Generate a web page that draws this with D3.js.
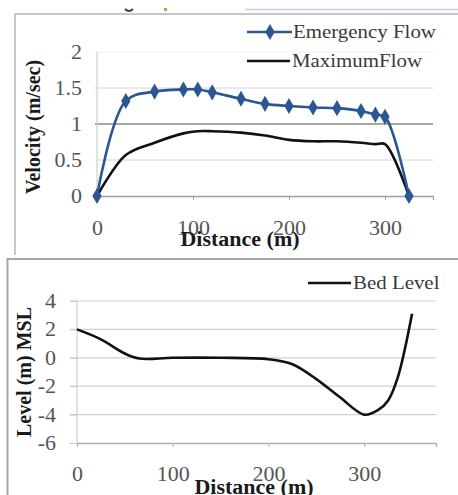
<!DOCTYPE html>
<html><head><meta charset="utf-8">
<script src="https://cdn.jsdelivr.net/npm/d3@7"></script>
<style>
html,body{margin:0;padding:0;background:#fff;}
svg{display:block;}
</style></head>
<body>
<script>
// ---- Data ----
const velDistance = [0,30,60,90,105,120,150,175,200,225,250,275,290,300,325];
const emergencyFlow = [0,1.32,1.45,1.48,1.48,1.44,1.35,1.28,1.25,1.23,1.22,1.18,1.13,1.1,0];
const maximumFlow = [0,0.57,0.74,0.87,0.9,0.9,0.88,0.84,0.78,0.76,0.76,0.74,0.72,0.72,0];
const velTicks = [0,0.5,1,1.5,2];
const distTicks = [0,100,200,300];

const bedDistance = [0,25,50,65,100,150,200,225,250,275,300,315,325,335,350];
const bedLevel = [2,1.3,0.3,-0.05,0,0,-0.1,-0.45,-1.5,-2.8,-4,-3.65,-3.0,-1.4,3.1];
const levelTicks = [-6,-4,-2,0,2,4];

const W = 458, H = 495, SX = 1.1;
const BLUE = "#2a5694";
const FONT = "'Liberation Serif', 'Times New Roman', Tinos, 'DejaVu Serif', serif";

const svg = d3.select("body").append("svg").attr("width", W).attr("height", H);
svg.append("rect").attr("width", W).attr("height", H).attr("fill", "#fff");

// ---- frames ----
svg.append("line").attr("x1", 245).attr("x2", W).attr("y1", 9.5).attr("y2", 9.5)
  .attr("stroke", "#c9c9ef").attr("stroke-width", 1.5);
svg.append("path").attr("d", "M15,255V14H" + W).attr("fill", "none")
  .attr("stroke", "#b5b5b5").attr("stroke-width", 1.5);
svg.append("path").attr("d", "M7.5," + H + "V259H" + W).attr("fill", "none")
  .attr("stroke", "#a8a8a8").attr("stroke-width", 2);
// tiny cropped glyph fragments at top
svg.append("path").attr("d", "M125,9 Q129,13 133,9").attr("fill", "none").attr("stroke", "#3a3a60").attr("stroke-width", 2);
svg.append("rect").attr("x", 164).attr("y", 8).attr("width", 3).attr("height", 3).attr("fill", "#c9a030");

function stretchedText(g, x, y, s, o) {
  o = o || {};
  return g.append("text")
    .attr("transform", `translate(${x},${y}) scale(${SX},1)`)
    .attr("text-anchor", o.anchor || "start")
    .attr("font-size", o.size || 19)
    .attr("font-weight", o.weight || "normal")
    .attr("fill", o.fill || "#333")
    .text(s);
}

// ================= Top chart =================
const x1 = d3.scaleLinear().domain([0, 350]).range([97, 433]);
const y1 = d3.scaleLinear().domain([0, 2]).range([196, 52]);
const g1 = svg.append("g");

g1.selectAll("line.grid").data(velTicks.filter(v => v > 0)).join("line")
  .attr("x1", x1(0) - 2).attr("x2", x1(350))
  .attr("y1", d => y1(d)).attr("y2", d => y1(d))
  .attr("stroke", d => d === 1 ? "#8a8a8a" : (d === 2 ? "#f0f0f0" : "#d4d4d4"))
  .attr("stroke-width", d => d === 1 ? 1.3 : 1);
g1.append("line").attr("x1", x1(0)).attr("x2", x1(0)).attr("y1", y1(2)).attr("y2", y1(0))
  .attr("stroke", "#cfcfcf").attr("stroke-width", 1.2);

const ya1 = g1.append("g").attr("transform", `translate(${x1(0)},0)`)
  .call(d3.axisLeft(y1).tickValues(velTicks).tickSize(0).tickPadding(15).tickFormat(d => String(d)));
ya1.select(".domain").remove();
ya1.selectAll("text").attr("font-size", 20).attr("fill", "#555")
  .attr("transform", `scale(${SX},1)`).attr("x", -15 / SX);

const xa1 = g1.append("g").attr("transform", `translate(0,${y1(0)})`)
  .call(d3.axisBottom(x1).tickValues(distTicks).tickSize(4).tickPadding(21).tickFormat(d => String(d)));
xa1.select(".domain").attr("stroke", "#a0a0a0").attr("stroke-width", 1.3);
xa1.selectAll(".tick line").attr("stroke", "#a0a0a0");
xa1.selectAll("text").attr("font-size", 20).attr("fill", "#555").attr("transform", `scale(${SX},1)`);

const line1 = d3.line().x(d => x1(d[0])).y(d => y1(d[1])).curve(d3.curveCatmullRom.alpha(0.5));
const maxPts = velDistance.map((d, i) => [d, maximumFlow[i]]);
const emPts = velDistance.map((d, i) => [d, emergencyFlow[i]]);
g1.append("path").attr("d", line1(maxPts)).attr("fill", "none").attr("stroke", "#111").attr("stroke-width", 2.6);
g1.append("path").attr("d", line1(emPts)).attr("fill", "none").attr("stroke", BLUE).attr("stroke-width", 2.6);
const diamond = d3.symbol(d3.symbolDiamond, 75);
g1.selectAll("path.mk").data(emPts).join("path").attr("class", "mk")
  .attr("transform", d => `translate(${x1(d[0])},${y1(d[1])})`)
  .attr("d", diamond).attr("fill", BLUE);

stretchedText(g1, 240, 246, "Distance (m)", { anchor: "middle", size: 20, weight: "bold", fill: "#1a1a1a" });
g1.append("text").attr("transform", "translate(40,127) rotate(-90)")
  .attr("text-anchor", "middle").attr("font-size", 20).attr("font-weight", "bold").attr("fill", "#1a1a1a")
  .text("Velocity (m/sec)");

g1.append("line").attr("x1", 247).attr("x2", 292).attr("y1", 32).attr("y2", 32).attr("stroke", BLUE).attr("stroke-width", 2.6);
g1.append("path").attr("transform", "translate(270,32)").attr("d", diamond).attr("fill", BLUE);
stretchedText(g1, 293, 38, "Emergency Flow", { size: 19, fill: "#3a3a3a" });
g1.append("line").attr("x1", 247).attr("x2", 290).attr("y1", 61).attr("y2", 61).attr("stroke", "#111").attr("stroke-width", 2.6);
stretchedText(g1, 292, 67, "MaximumFlow", { size: 19, fill: "#3a3a3a" });

// ================= Bottom chart =================
const x2 = d3.scaleLinear().domain([0, 375]).range([77, 436]);
const y2 = d3.scaleLinear().domain([-6, 4]).range([443, 301]);
const g2 = svg.append("g");

g2.selectAll("line.grid").data(levelTicks.filter(v => v > -6)).join("line")
  .attr("x1", x2(0) - 7).attr("x2", x2(375))
  .attr("y1", d => y2(d)).attr("y2", d => y2(d))
  .attr("stroke", "#d0d0d0").attr("stroke-width", 1.2);
g2.append("line").attr("x1", x2(0)).attr("x2", x2(0)).attr("y1", y2(4)).attr("y2", y2(-6))
  .attr("stroke", "#cfcfcf").attr("stroke-width", 1.2);

const ya2 = g2.append("g").attr("transform", `translate(${x2(0)},0)`)
  .call(d3.axisLeft(y2).tickValues(levelTicks).tickSize(7).tickPadding(14).tickFormat(d => String(d)));
ya2.select(".domain").remove();
ya2.selectAll(".tick line").attr("stroke", "#c8c8c8");
ya2.selectAll("text").attr("font-size", 20).attr("fill", "#555")
  .attr("transform", `scale(${SX},1)`).attr("x", -21 / SX);

const xa2 = g2.append("g").attr("transform", `translate(0,${y2(-6)})`)
  .call(d3.axisBottom(x2).tickValues(distTicks).tickSize(4).tickPadding(20).tickFormat(d => String(d)));
xa2.select(".domain").attr("stroke", "#b0b0b0").attr("stroke-width", 1.3);
xa2.selectAll(".tick line").attr("stroke", "#b0b0b0");
xa2.selectAll("text").attr("font-size", 20).attr("fill", "#555").attr("transform", `scale(${SX},1)`);

const line2 = d3.line().x(d => x2(d[0])).y(d => y2(d[1])).curve(d3.curveCatmullRom.alpha(0.5));
const bedPts = bedDistance.map((d, i) => [d, bedLevel[i]]);
g2.append("path").attr("d", line2(bedPts)).attr("fill", "none").attr("stroke", "#111").attr("stroke-width", 2.6);

stretchedText(g2, 254, 494, "Distance (m)", { anchor: "middle", size: 20, weight: "bold", fill: "#1a1a1a" });
g2.append("text").attr("transform", "translate(31,372) rotate(-90)")
  .attr("text-anchor", "middle").attr("font-size", 20).attr("font-weight", "bold").attr("fill", "#1a1a1a")
  .text("Level (m) MSL");

g2.append("line").attr("x1", 308).attr("x2", 351).attr("y1", 283).attr("y2", 283).attr("stroke", "#111").attr("stroke-width", 2.6);
stretchedText(g2, 353, 289, "Bed Level", { size: 19, fill: "#3a3a3a" });

// apply serif font everywhere
svg.selectAll("g").attr("font-family", FONT);
svg.selectAll("text").attr("font-family", FONT).style("font-family", FONT);
</script>
</body></html>
